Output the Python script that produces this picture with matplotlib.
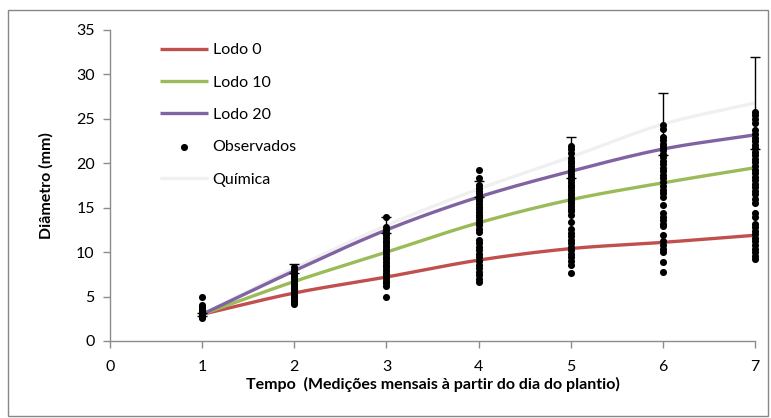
import numpy as np
import matplotlib
matplotlib.use("Agg")
import matplotlib.pyplot as plt
from matplotlib.patches import Rectangle

plt.rcParams['font.family'] = ['Lato', 'DejaVu Sans']

# Months since planting
meses = [1, 2, 3, 4, 5, 6, 7]

# Fitted diameter curves (mm)
lodo_0 = [3.0, 5.4, 7.2, 9.1, 10.4, 11.1, 11.9]
lodo_10 = [3.0, 6.7, 10.0, 13.3, 15.9, 17.8, 19.5]
lodo_20 = [3.0, 7.9, 12.5, 16.2, 19.1, 21.6, 23.2]
quimica = [3.0, 8.2, 13.0, 17.1, 20.7, 24.4, 26.8]
quimica_err = [0.2, 0.5, 0.9, 0.9, 2.3, 3.5, 5.2]

# Observed diameters (mm) per month
obs_m1 = [4.9, 4.0, 3.8, 3.6, 3.4, 3.3, 3.2, 3.1, 3.0, 2.9, 2.8, 2.7, 2.6]
obs_m2 = [8.3, 8.0, 7.7, 7.4, 7.2, 7.0, 6.8, 6.6, 6.4, 6.2, 6.0, 5.8, 5.6,
          5.4, 5.2, 5.0, 4.8, 4.6, 4.4, 4.2]
obs_m3 = [14.0, 12.8, 12.5, 12.2, 11.9, 11.6, 11.3, 11.0, 10.7, 10.4, 10.1,
          9.8, 9.5, 9.2, 8.9, 8.6, 8.3, 8.0, 7.7, 7.4, 7.1, 6.8, 6.5, 6.2, 4.9]
obs_m4 = [19.2, 18.3, 17.5, 17.2, 16.9, 16.6, 16.3, 16.0, 15.7, 15.4, 15.1,
          14.8, 14.5, 14.2, 13.9, 13.6, 13.3, 13.0, 12.6, 12.3, 11.4, 11.0,
          10.6, 10.2, 9.8, 9.4, 9.0, 8.6, 8.2, 7.8, 7.4, 7.0, 6.6]
obs_m5 = [22.0, 21.6, 21.2, 20.6, 20.3, 20.0, 19.7, 19.4, 19.1, 18.8, 18.5,
          18.2, 17.9, 17.6, 17.3, 17.0, 16.7, 16.4, 16.1, 15.8, 15.5, 15.2,
          14.9, 14.6, 14.2, 13.4, 12.6, 12.2, 11.8, 11.4, 11.0, 10.6, 10.2,
          9.8, 9.4, 9.0, 8.6, 7.6]
obs_m6 = [24.3, 23.9, 23.0, 22.6, 22.2, 21.8, 21.5, 21.1, 20.7, 20.3, 19.9,
          19.5, 19.1, 18.7, 18.3, 17.9, 17.4, 17.0, 16.6, 16.2, 15.3, 14.4,
          14.0, 13.6, 13.2, 12.9, 11.9, 11.2, 10.8, 10.4, 10.0, 8.9, 7.8]
obs_m7 = [25.8, 25.4, 25.0, 24.5, 23.7, 23.3, 22.9, 22.5, 22.1, 21.7, 21.3,
          20.9, 20.5, 20.1, 19.7, 19.3, 18.9, 18.5, 18.1, 17.7, 17.3, 16.9,
          16.5, 16.0, 15.5, 14.4, 14.0, 13.2, 12.8, 12.4, 12.0, 11.6, 11.2,
          10.8, 10.4, 10.0, 9.6, 9.2]
observados = [obs_m1, obs_m2, obs_m3, obs_m4, obs_m5, obs_m6, obs_m7]

x_ticks = [0, 1, 2, 3, 4, 5, 6, 7]
y_ticks = [0, 5, 10, 15, 20, 25, 30, 35]


def smooth_line(x, y, n=30):
    """Catmull-Rom curve through the points, like a spreadsheet smoothed line."""
    x = np.asarray(x, float)
    y = np.asarray(y, float)
    px = np.concatenate([[2 * x[0] - x[1]], x, [2 * x[-1] - x[-2]]])
    py = np.concatenate([[2 * y[0] - y[1]], y, [2 * y[-1] - y[-2]]])
    xs, ys = [], []
    t = np.linspace(0, 1, n)
    for i in range(1, len(px) - 2):
        for p, out in ((px, xs), (py, ys)):
            p0, p1, p2, p3 = p[i - 1], p[i], p[i + 1], p[i + 2]
            seg = 0.5 * ((2 * p1) + (-p0 + p2) * t
                         + (2 * p0 - 5 * p1 + 4 * p2 - p3) * t ** 2
                         + (-p0 + 3 * p1 - 3 * p2 + p3) * t ** 3)
            out.extend(seg if i == 1 else seg[1:])
    return np.array(xs), np.array(ys)


fig = plt.figure(figsize=(7.71, 4.18), dpi=100)
fig.patches.append(Rectangle((8 / 771, 2 / 418), 760 / 771, 406 / 418,
                             transform=fig.transFigure, fill=False,
                             edgecolor='#888888', linewidth=1.0))

ax = fig.add_axes([110 / 771, 1 - 341 / 418, 645 / 771, 311 / 418])

series = [
    (lodo_0, '#c0504d', 'Lodo 0'),
    (lodo_10, '#9bbb59', 'Lodo 10'),
    (lodo_20, '#8064a2', 'Lodo 20'),
]
handles = []
for vals, col, lab in series:
    sx, sy = smooth_line(meses, vals)
    h, = ax.plot(sx, sy, color=col, lw=2.4, label=lab, zorder=3,
                 solid_capstyle='butt')
    handles.append(h)

qx, qy = smooth_line(meses, quimica)
hq, = ax.plot(qx, qy, color='#f0f0f0', lw=2.4, label='Química', zorder=2,
              solid_capstyle='butt')
eb = ax.errorbar(meses, quimica, yerr=quimica_err, fmt='none', ecolor='black',
                 elinewidth=1.0, capsize=3.6, capthick=1.0, zorder=4)
for art in eb.lines[1] + eb.lines[2]:
    art.set_clip_on(False)

for m, vals in zip(meses, observados):
    ax.scatter([m] * len(vals), vals, s=26, color='black', zorder=5,
               linewidths=0, clip_on=False)
hobs = ax.scatter([], [], s=26, color='black', linewidths=0, label='Observados')

ax.set_xlim(0, 7)
ax.set_ylim(0, 35)
ax.set_xticks(x_ticks)
ax.set_yticks(y_ticks)
for s in ('top', 'right'):
    ax.spines[s].set_visible(False)
for s in ('left', 'bottom'):
    ax.spines[s].set_color('#8c8c8c')
    ax.spines[s].set_linewidth(1.0)
ax.tick_params(axis='both', colors='#8c8c8c', length=5, width=1.0,
               labelcolor='black', labelsize=11.5, direction='out')
ax.tick_params(axis='x', pad=9)
ax.tick_params(axis='y', pad=6)

ax.set_xlabel('Tempo  (Medições mensais à partir do dia do plantio)',
              fontsize=11.5, fontweight='bold', labelpad=2)
ax.set_ylabel('Diâmetro (mm)', fontsize=11.5, fontweight='bold', labelpad=16)

leg = ax.legend(handles=handles + [hobs, hq],
                labels=['Lodo 0', 'Lodo 10', 'Lodo 20', 'Observados', 'Química'],
                loc='upper left', bbox_to_anchor=(152 / 771, 1 - 35 / 418),
                bbox_transform=fig.transFigure, frameon=False, fontsize=11.5,
                handlelength=3.0, handletextpad=0.3, labelspacing=1.14,
                borderpad=0)

fig.savefig('out.png', dpi=100)
